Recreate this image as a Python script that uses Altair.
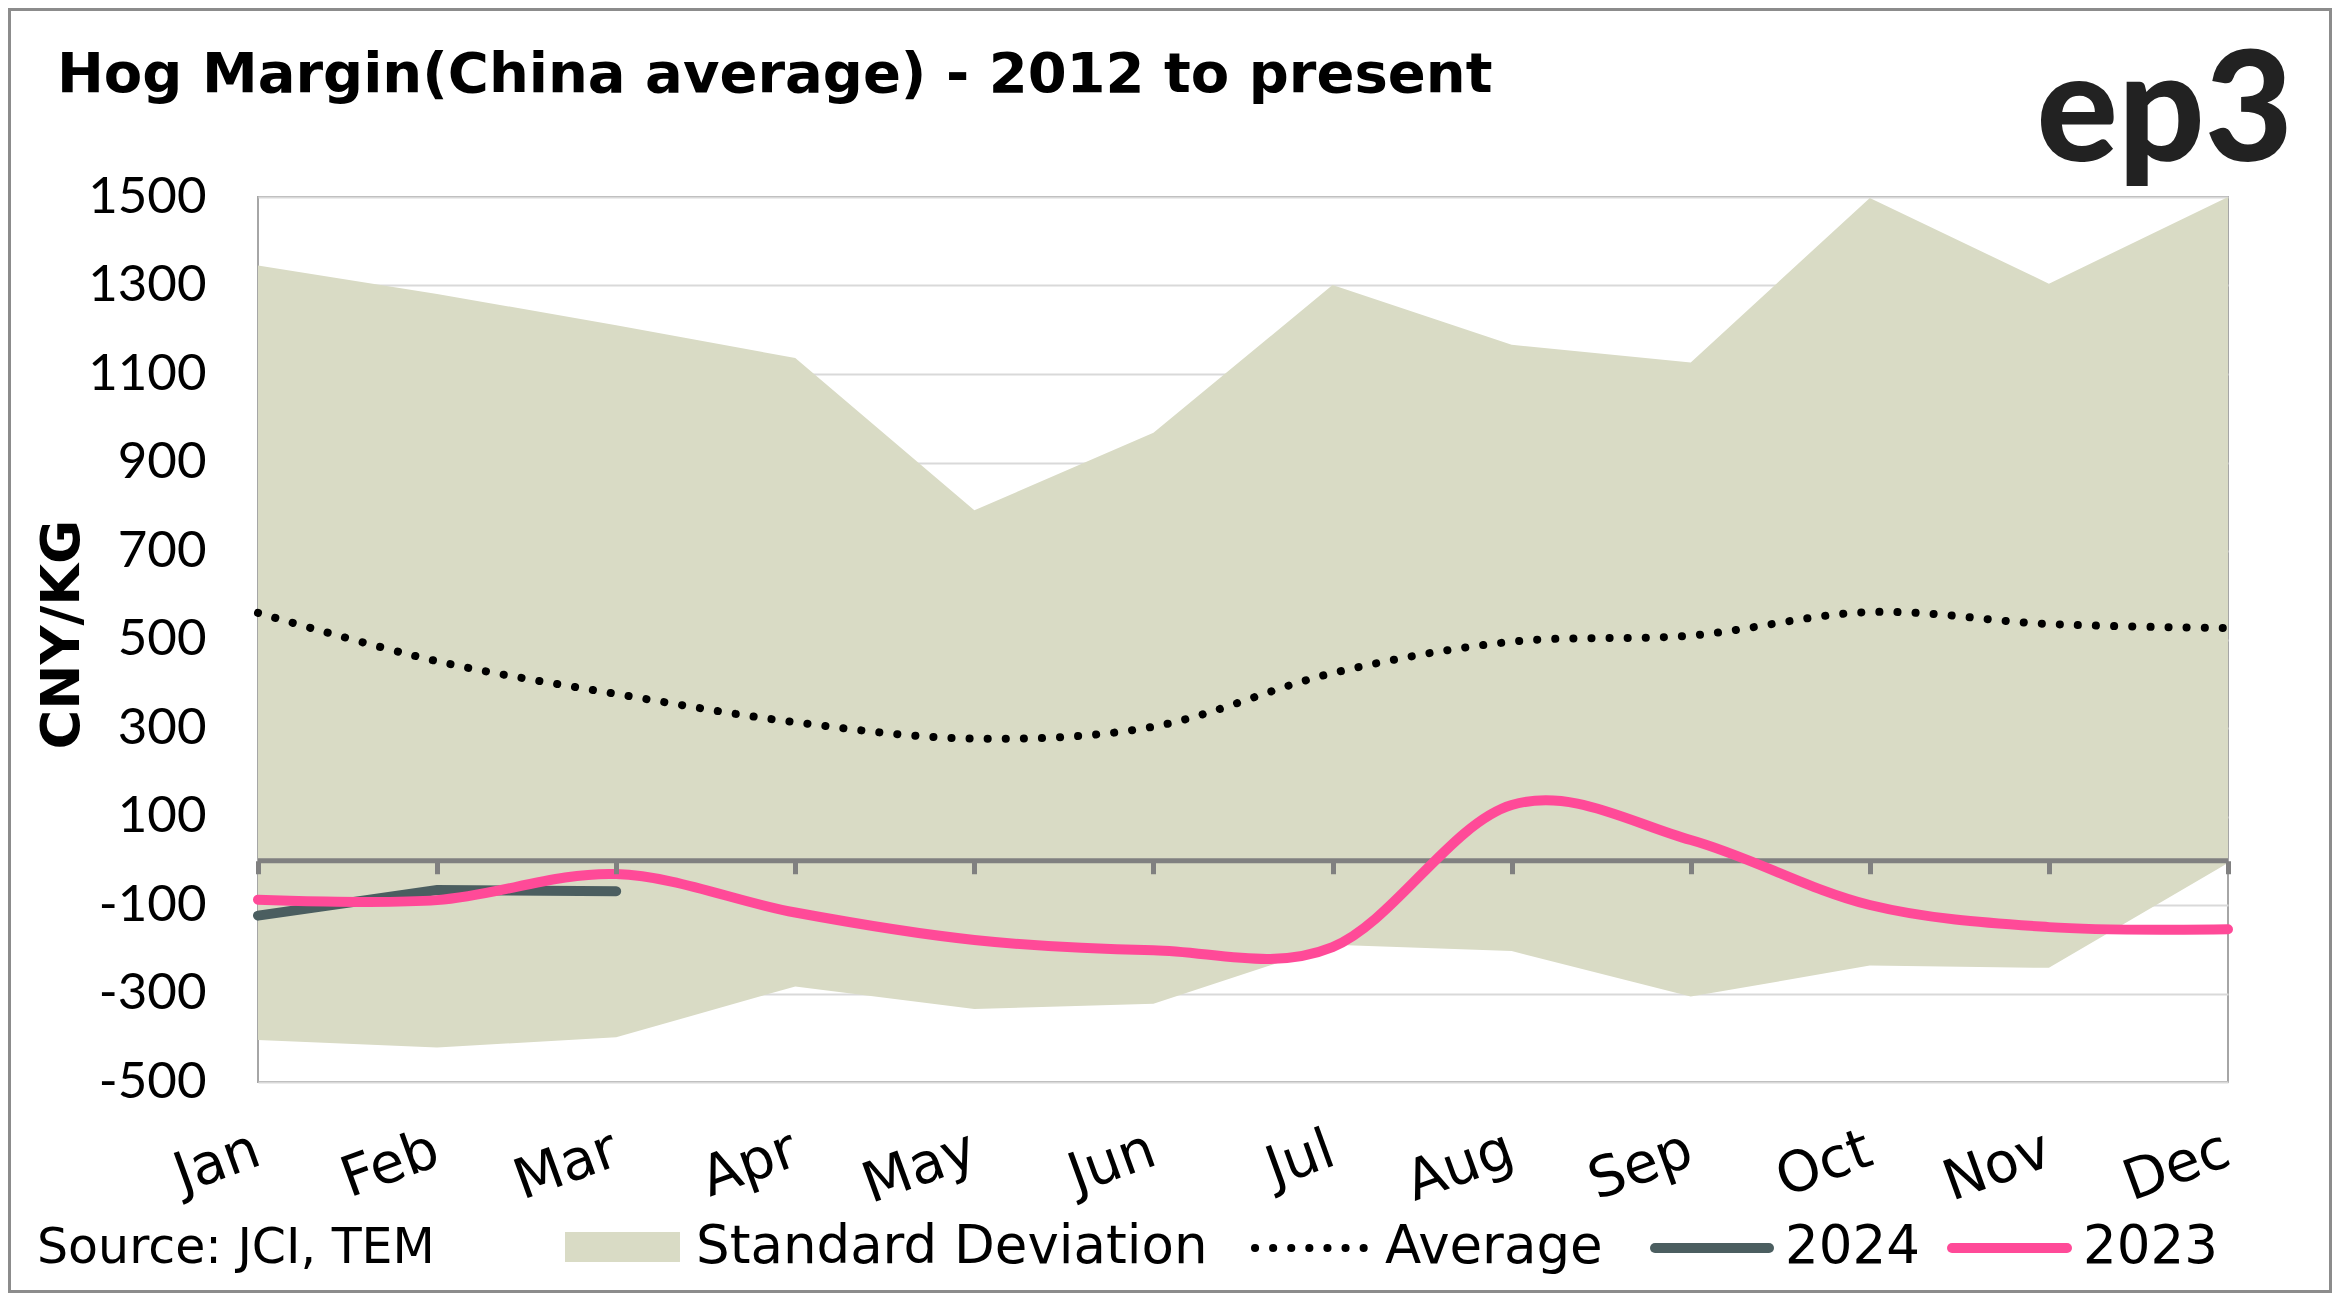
import altair as alt
import pandas as pd

# ---------------- data ----------------
months = ["Jan", "Feb", "Mar", "Apr", "May", "Jun",
          "Jul", "Aug", "Sep", "Oct", "Nov", "Dec"]
sd_upper = [1345, 1281, 1210, 1136, 792, 967, 1301, 1166, 1126, 1498, 1304, 1500]
sd_lower = [-405, -422, -399, -284, -335, -323, -190, -204, -307, -237, -242, -5]
average = [560, 451, 377, 313, 276, 303, 424, 495, 509, 562, 535, 526]
months_2024 = ["Jan", "Feb", "Mar"]
values_2024 = [-124, -66, -69]
values_2023 = [-88, -89, -30, -117, -179, -202, -195, 126, 47, -100, -150, -155]
y_ticks = [-500, -300, -100, 100, 300, 500, 700, 900, 1100, 1300, 1500]

title_text = "Hog Margin(China average) - 2012 to present"
logo_text = "ep3"
source_text = "Source: JCI, TEM"
y_title = "CNY/KG"
legend_labels = ["Standard Deviation", "Average", "2024", "2023"]

# ---------------- styles ----------------
BAND = "#d9dbc5"
PINK = "#ff4a98"
DARK = "#4b5e60"
AXIS_GRAY = "#808080"
W, H = 1970, 885

df = pd.DataFrame({"month": months, "upper": sd_upper, "lower": sd_lower,
                   "avg": average, "v2023": values_2023})
df24 = pd.DataFrame({"month": months_2024, "v2024": values_2024})
dummy = pd.DataFrame({"k": [0]})

xscale = alt.Scale(type="point", padding=0, domain=months)
yscale = alt.Scale(domain=[-500, 1500], nice=False, zero=False)

label_axis = alt.Axis(
    domain=False, ticks=False, tickSize=0, grid=False, title=None,
    labelAngle=340, labelAlign="right", labelBaseline="top",
    labelPadding=40, labelOffset=-10, labelFont="DejaVu Sans",
    labelFontSize=56, labelColor="#000000", labelOverlap=False)

zero_axis = alt.Axis(
    orient="bottom", offset=-221.25, domain=False, labels=False, grid=False,
    title=None, ticks=True, tickSize=13, tickWidth=5, tickColor=AXIS_GRAY,
    zindex=1)

y_axis = alt.Axis(
    values=y_ticks, grid=True, gridColor="#d9d9d9", gridWidth=2,
    domain=False, ticks=False, labelPadding=52, labelFont="Lato",
    labelFontSize=51, labelColor="#000000", labelExpr="'' + datum.value",
    title=y_title, titleFont="DejaVu Sans", titleFontWeight="bold",
    titleFontSize=54, titleAngle=270, titleX=-196, titleY=437,
    titleAlign="center", titleBaseline="middle", titleColor="#000000")

band = alt.Chart(df).mark_area(color=BAND, opacity=1).encode(
    x=alt.X("month:O", scale=xscale, axis=label_axis, sort=months),
    y=alt.Y("lower:Q", scale=yscale, axis=y_axis),
    y2="upper:Q")

avg_line = alt.Chart(df).mark_line(
    color="#000000", strokeWidth=8, strokeDash=[0.1, 18], strokeCap="round",
    interpolate="cardinal").encode(
    x=alt.X("month:O", scale=xscale, axis=None, sort=months),
    y=alt.Y("avg:Q", scale=yscale))

zero_rule = alt.Chart(dummy).mark_rule(color=AXIS_GRAY, strokeWidth=5).encode(
    y=alt.datum(0, scale=yscale))

line24 = alt.Chart(df24).mark_line(
    color=DARK, strokeWidth=10, strokeCap="round").encode(
    x=alt.X("month:O", scale=xscale, axis=None, sort=months),
    y=alt.Y("v2024:Q", scale=yscale))

line23 = alt.Chart(df).mark_line(
    color=PINK, strokeWidth=10, strokeCap="round", interpolate="cardinal").encode(
    x=alt.X("month:O", scale=xscale, axis=zero_axis, sort=months),
    y=alt.Y("v2023:Q", scale=yscale))


def txt(s, x, y, size, font, weight="normal", align="left",
        baseline="alphabetic", color="#000000"):
    return alt.Chart(dummy).mark_text(
        text=s, font=font, fontSize=size, fontWeight=weight, align=align,
        baseline=baseline, color=color).encode(
        x=alt.value(x), y=alt.value(y))


title = txt(title_text, -201, -105, 56, "DejaVu Sans", weight="bold")
logo = txt(logo_text, 2035, -36, 152, "Lato", weight=900, align="right",
           color="#222222")
source = txt(source_text, -221, 1066, 49, "DejaVu Sans")

leg_rect = alt.Chart(dummy).mark_rect(color=BAND).encode(
    x=alt.value(307), x2=alt.value(422), y=alt.value(1035), y2=alt.value(1065))
leg_sd = txt(legend_labels[0], 438, 1066, 53, "DejaVu Sans")
leg_dot = alt.Chart(dummy).mark_rule(
    color="#000000", strokeWidth=8, strokeDash=[0.1, 18], strokeCap="round").encode(
    x=alt.value(997), x2=alt.value(1109), y=alt.value(1051))
leg_avg = txt(legend_labels[1], 1127, 1066, 53, "DejaVu Sans")
leg_24line = alt.Chart(dummy).mark_rule(
    color=DARK, strokeWidth=10, strokeCap="round").encode(
    x=alt.value(1397), x2=alt.value(1511), y=alt.value(1051))
leg_24 = txt(legend_labels[2], 1527, 1066, 53, "DejaVu Sans")
leg_23line = alt.Chart(dummy).mark_rule(
    color=PINK, strokeWidth=10, strokeCap="round").encode(
    x=alt.value(1694), x2=alt.value(1809), y=alt.value(1051))
leg_23 = txt(legend_labels[3], 1825, 1066, 53, "DejaVu Sans")

frame = alt.Chart(dummy).mark_rect(
    fillOpacity=0, stroke="#8c8c8c", strokeWidth=3).encode(
    x=alt.value(-248.5), x2=alt.value(2072.5),
    y=alt.value(-187.5), y2=alt.value(1094.5))

chart = alt.layer(
    band, avg_line, zero_rule, line24, line23,
    title, logo, source,
    leg_rect, leg_sd, leg_dot, leg_avg, leg_24line, leg_24, leg_23line, leg_23,
    frame,
).resolve_axis(x="independent").properties(
    width=W, height=H,
    autosize=alt.AutoSizeParams(type="none"),
    padding={"left": 250, "top": 189, "right": 104, "bottom": 211},
    background="#ffffff",
).configure_view(stroke="#a6a6a6", strokeWidth=2)

chart.save("out.html", embed_options={"renderer": "svg", "actions": False})
